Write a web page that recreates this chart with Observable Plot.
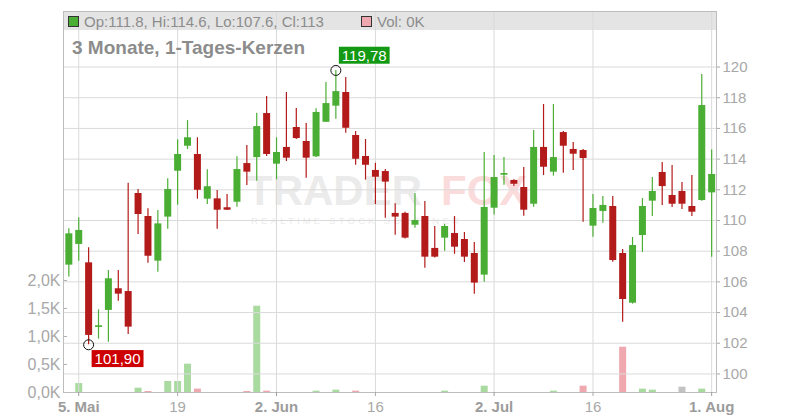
<!DOCTYPE html>
<html>
<head>
<meta charset="utf-8">
<script src="https://cdn.jsdelivr.net/npm/d3@7"></script>
<script src="https://cdn.jsdelivr.net/npm/@observablehq/plot@0.6"></script>
<style>
  body { margin: 0; background: #fff; font-family: "Liberation Sans", Arial, sans-serif; }
  #wrap { position: relative; width: 800px; height: 420px; overflow: hidden; background: #fff; }
  #wrap > * { position: absolute; }
  #band { left: 63px; top: 11px; width: 653px; height: 19px; background: #e4e4e4; }
  .hdr { font-size: 15px; line-height: 15px; color: #8c8c8c; white-space: pre; }
  .sq { width: 9px; height: 9px; border: 1px solid #333; }
  #title { left: 72px; top: 38px; font-size: 19px; line-height: 19px; font-weight: bold; color: #8c8c8c; white-space: pre; }
  .wm { font-weight: bold; font-size: 42px; line-height: 32px; white-space: pre; }
  .wm2 { font-size: 9.5px; line-height: 10px; letter-spacing: 3.2px; color: #ebebeb; white-space: pre; }
  svg.plot { position: absolute; left: 0; top: 0; background: transparent; }
</style>
</head>
<body>
<div id="wrap">
  <div id="band"></div>
  <div class="wm" style="left:247px;top:175px;color:#ebebeb">TRADER</div>
  <div class="wm" style="left:441px;top:175px;color:#fbdcdc">FOX</div>
  <div class="wm2" style="left:251px;top:216px">REALTIME STOCK SCREENER</div>
</div>
<script>
// ---- data ----
const open  = [107.09,108.44,107.24,103.03,104.14,105.55,105.37,111.76,110.26,107.35,110.22,113.21,114.84,114.30,111.39,111.41,110.83,111.19,113.71,114.10,116.97,113.67,114.76,116.06,115.15,114.15,116.40,117.45,118.34,115.54,114.17,113.26,113.19,110.46,110.46,109.69,110.26,108.18,108.85,109.15,108.76,107.85,106.44,110.80,112.95,112.61,112.15,111.06,114.76,113.15,115.73,114.63,114.56,109.63,110.59,110.91,107.85,104.61,109.02,111.26,113.13,111.63,111.89,110.91,111.30,111.80];
const high  = [109.46,110.18,108.22,104.18,106.74,106.74,112.43,112.02,110.76,110.65,112.72,115.26,116.51,115.39,113.30,111.95,111.69,114.15,114.89,116.99,118.08,115.39,118.34,117.30,116.32,117.28,118.99,119.78,119.32,115.80,115.28,113.73,113.32,111.09,110.54,111.76,111.24,109.61,109.74,110.26,109.22,108.57,114.43,114.23,114.10,112.65,113.45,115.86,117.56,117.56,115.80,115.08,114.63,111.69,111.56,111.56,108.11,108.89,111.43,112.80,113.78,113.58,112.48,112.93,119.51,114.60];
const low   = [106.31,107.35,101.90,102.27,102.07,104.74,102.57,109.09,107.22,106.63,109.43,111.00,114.63,111.39,111.04,109.43,110.65,110.87,112.28,112.56,114.17,112.65,113.84,115.28,112.76,114.10,116.38,116.60,115.69,113.60,112.63,111.04,110.15,109.04,108.80,109.50,106.89,107.55,108.00,107.80,107.26,105.20,105.98,110.35,112.30,112.21,110.28,110.87,112.93,112.89,113.08,113.26,109.89,108.91,109.82,107.28,103.37,104.55,107.92,110.26,110.98,110.85,110.72,110.26,111.25,107.60];
const close = [109.13,109.35,102.51,103.14,106.20,105.20,103.05,110.39,107.67,109.78,112.02,114.30,115.39,111.97,112.20,110.67,110.67,113.32,113.15,116.12,114.30,114.43,114.06,115.34,114.06,117.04,117.62,118.40,116.01,113.99,113.60,112.82,112.50,110.22,108.85,110.00,107.61,107.61,109.61,108.26,107.61,105.92,110.85,112.80,113.06,112.36,110.67,114.76,113.47,114.10,114.84,114.32,114.04,110.78,110.98,107.39,104.85,108.37,110.91,111.89,112.21,111.06,111.06,110.54,117.49,113.00];
const volume = [0,160,0,0,0,0,0,77,18,0,196,196,506,60,0,0,0,0,18,1541,24,0,0,0,0,24,0,42,0,24,0,0,0,0,0,0,0,0,24,0,0,0,113,0,0,0,0,0,0,24,0,0,113,0,0,0,809,0,60,42,0,0,95,0,60,0];
const volDir = ["f","u","f","f","f","f","f","u","d","f","u","u","u","d","f","f","f","f","d","u","d","f","f","f","f","u","f","u","f","d","f","f","f","f","f","f","f","f","u","f","f","f","u","f","f","f","f","f","f","u","f","f","d","f","f","f","d","f","u","u","f","f","f","f","u","f"];
const tickIndex  = [1, 11, 21, 31, 43, 53, 65];
const tickLabels = ["5. Mai", "19", "2. Jun", "16", "2. Jul", "16", "1. Aug"];
const tickMajor  = [true, false, true, false, true, false, true];
const priceTicks = [100, 102, 104, 106, 108, 110, 112, 114, 116, 118, 120];
const volTicks   = [0, 500, 1000, 1500, 2000];
const marks = [
  {i: 27, price: 119.78, label: "119,78", kind: "hi"},
  {i: 2,  price: 101.90, label: "101,90", kind: "lo"}
];
const header = {op: "111.8", hi: "114.6", lo: "107.6", cl: "113", vol: "0K"};
const titleText = "3 Monate, 1-Tages-Kerzen";

// ---- build ----
const GREEN = "#4aae34", RED = "#b31a1a";
const VOLC = {u: "#a9dba1", d: "#f0a8b0", f: "#c2c2c2"};
const candles = open.map((o, i) => ({i, o, h: high[i], l: low[i], c: close[i]}));
const vols = volume.map((v, i) => ({i, v, dir: volDir[i]})).filter(d => d.v > 0);
const ticks = tickIndex.map((i, k) => ({i, label: tickLabels[k], major: tickMajor[k]}));
const labelOf = new Map(ticks.map(t => [t.i, t.label]));

const xDomain = [-0.54, 65.49];
const common = {
  width: 800, height: 420,
  marginLeft: 63, marginRight: 84, marginTop: 11, marginBottom: 28,
  style: {background: "transparent", fontFamily: "'Liberation Sans', Arial, sans-serif", overflow: "visible"}
};
const wrap = document.getElementById("wrap");

const volPlot = Plot.plot({
  ...common,
  x: {domain: xDomain, axis: null},
  y: {domain: [0, 6804], axis: null},
  marks: [
    Plot.ruleX(vols, {x: "i", y1: 0, y2: "v", stroke: d => VOLC[d.dir], strokeWidth: 7}),
    Plot.axisY({anchor: "left", ticks: volTicks, tickSize: 0, tickPadding: 3, fontSize: 16, color: "#a8a8a8",
      label: null, tickFormat: d => (d / 1000).toFixed(1).replace(".", ",") + "K"}),
    Plot.axisY({anchor: "left", ticks: volTicks, tickSize: -4, color: "#b0b0b0",
      label: null, tickFormat: () => ""})
  ]
});
wrap.appendChild(volPlot);

const pricePlot = Plot.plot({
  ...common,
  x: {domain: xDomain, axis: null},
  y: {domain: [98.79, 123.62], axis: null},
  marks: [
    Plot.ruleY(priceTicks, {stroke: "#dadada"}),
    Plot.ruleX(tickIndex, {stroke: "#dadada"}),
    Plot.frame({stroke: "#bdbdbd"}),
    Plot.ruleX(candles, {x: "i", y1: "l", y2: "h", stroke: d => d.c >= d.o ? GREEN : RED, strokeWidth: 1.2}),
    Plot.ruleX(candles, {x: "i", y1: "o", y2: "c", stroke: d => d.c >= d.o ? GREEN : RED, strokeWidth: 7, strokeLinecap: "butt"}),
    Plot.axisY({anchor: "right", ticks: priceTicks, tickSize: 3, tickPadding: 3, fontSize: 15, color: "#a8a8a8", label: null}),
    Plot.axisX({ticks: ticks.filter(t => t.major).map(t => t.i), tickFormat: i => labelOf.get(i),
      tickSize: 4, tickPadding: 5, fontSize: 15, fontWeight: "bold", color: "#9c9c9c", label: null}),
    Plot.axisX({ticks: ticks.filter(t => !t.major).map(t => t.i), tickFormat: i => labelOf.get(i),
      tickSize: 4, tickPadding: 5, fontSize: 15, color: "#a8a8a8", label: null}),
    Plot.dot(marks, {x: "i", y: "price", r: 5, stroke: "#111", fill: "none", strokeWidth: 1}),
    Plot.text(marks, {x: "i", y: "price", text: "label", dx: 6,
      textAnchor: "start", fill: "white", fontSize: 15, className: "lbl"})
  ]
});
wrap.appendChild(pricePlot);

// label boxes + vertical offsets
const lblTexts = pricePlot.querySelectorAll("g.lbl text");
lblTexts.forEach((t, k) => {
  const m = marks[k];
  t.setAttribute("transform", (t.getAttribute("transform") || "") + ` translate(0,${m.kind === "hi" ? -14.5 : 14.5})`);
});
lblTexts.forEach((t, k) => {
  const m = marks[k];
  const b = t.getBBox();
  const r = document.createElementNS("http://www.w3.org/2000/svg", "rect");
  r.setAttribute("x", b.x - 3); r.setAttribute("y", b.y);
  r.setAttribute("width", b.width + 6); r.setAttribute("height", b.height);
  r.setAttribute("fill", m.kind === "hi" ? "#139913" : "#cc0000");
  if (t.getAttribute("transform")) r.setAttribute("transform", t.getAttribute("transform"));
  t.parentNode.insertBefore(r, t);
});

// header (legend row) and title
function addDiv(cls, css, html) {
  const d = document.createElement("div");
  d.className = cls; d.style.cssText = css; d.innerHTML = html;
  wrap.appendChild(d); return d;
}
addDiv("sq", `left:68px;top:16px;background:${GREEN}`, "");
addDiv("hdr", "left:84px;top:14px", `Op:${header.op}, Hi:${header.hi}, Lo:${header.lo}, Cl:${header.cl}`);
addDiv("sq", "left:361px;top:16px;background:#f0a8b0", "");
addDiv("hdr", "left:377px;top:14px", `Vol: ${header.vol}`);
const tt = document.createElement("div"); tt.id = "title"; tt.textContent = titleText; wrap.appendChild(tt);
</script>
</body>
</html>
